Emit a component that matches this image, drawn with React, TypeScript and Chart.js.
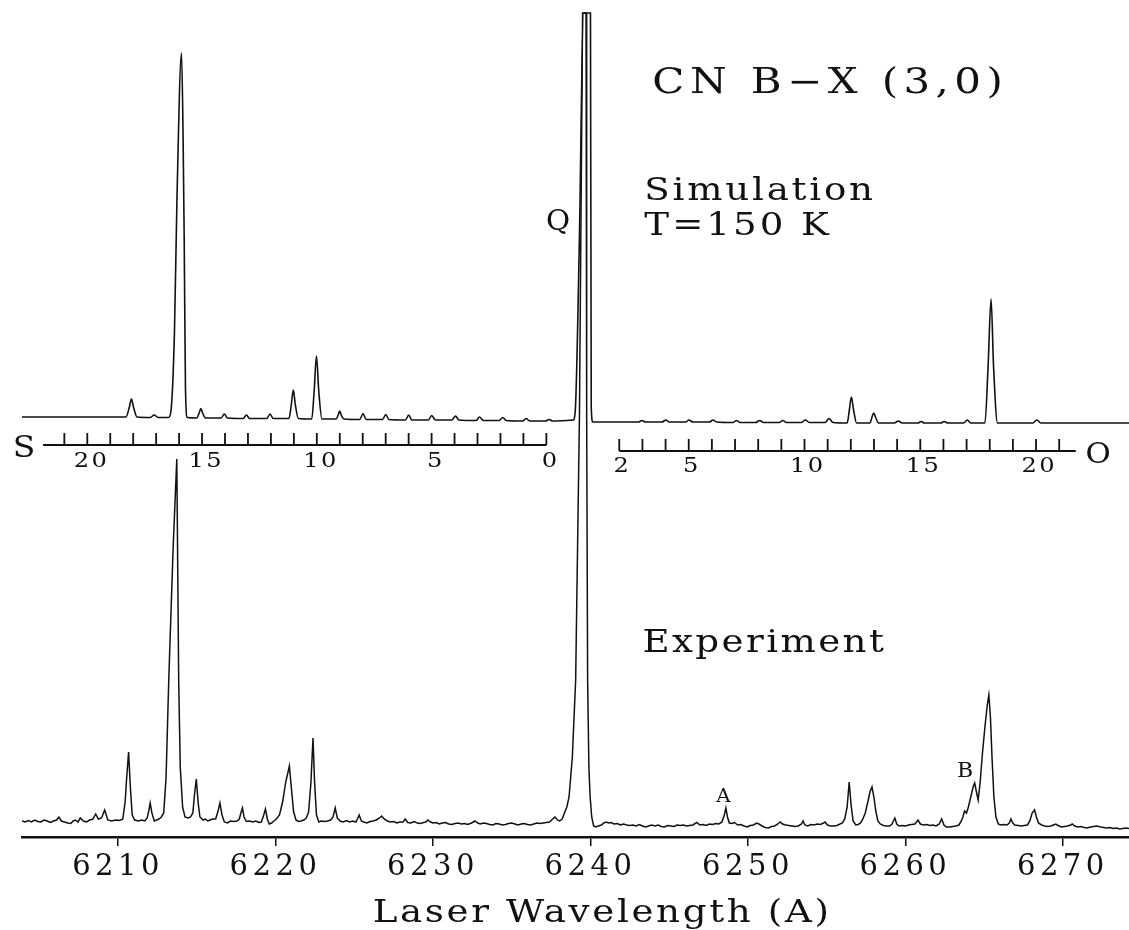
import React, { useEffect, useRef } from 'react';
import { Chart, registerables } from 'chart.js';

Chart.register(...registerables);

// ---------- axis ----------
const X_MIN = 6203.9;
const X_MAX = 6274.2;
const X_TICKS = [6210, 6220, 6230, 6240, 6250, 6260, 6270];
const X_TITLE = 'Laser Wavelength (A)';
const Y_MAX = 825;

// ---------- simulation trace (T = 150 K): [wavelength, intensity] ----------
const SIM_S_BRANCH = [
  [6203.9, 420], [6209.9, 420], [6210.5, 420], [6210.72, 430], [6210.85, 438], [6210.98, 430], [6211.2, 420],
  [6212.05, 419.5], [6212.29, 422], [6212.55, 419.5],
  [6213.2, 419.5], [6213.35, 425], [6213.58, 504], [6213.74, 637], [6214.03, 784], [6214.13, 700], [6214.2, 600], [6214.28, 450], [6214.4, 419.5],
  [6215.0, 419], [6215.15, 424], [6215.26, 428.5], [6215.37, 424], [6215.55, 419],
  [6216.55, 419], [6216.75, 423], [6216.95, 419], [6217.95, 418.5], [6218.15, 422], [6218.35, 418.5],
  [6219.45, 418.5], [6219.65, 423], [6219.85, 418.5], [6220.85, 418.5], [6221.0, 432], [6221.13, 447], [6221.26, 432], [6221.45, 418.5],
  [6222.3, 418], [6222.45, 445], [6222.6, 481], [6222.75, 445], [6222.95, 418],
  [6223.85, 418], [6224.0, 423], [6224.07, 426], [6224.2, 421], [6224.35, 418],
  [6225.35, 417.5], [6225.56, 423.5], [6225.75, 417.5], [6226.8, 417.5], [6227.0, 422.5], [6227.2, 417.5],
  [6228.25, 417], [6228.46, 422], [6228.65, 417], [6229.7, 417], [6229.92, 421.5], [6230.15, 417],
  [6231.2, 417], [6231.43, 421], [6231.65, 417], [6232.75, 416.5], [6232.95, 420], [6233.2, 416.5],
  [6234.2, 416.5], [6234.43, 419.5], [6234.65, 416.5], [6235.7, 416], [6235.91, 418.5], [6236.15, 416],
  [6237.15, 416], [6237.37, 417.5], [6237.6, 416], [6238.9, 417],
];
const SIM_Q_BRANCH = [
  [6239.03, 425], [6239.3, 600], [6239.55, 824], [6240.0, 824], [6240.05, 430], [6240.15, 415],
];
const SIM_O_BRANCH = [
  [6243.05, 415], [6243.27, 416.5], [6243.5, 415], [6244.55, 415], [6244.79, 417], [6245.0, 415],
  [6246.05, 415], [6246.26, 417], [6246.5, 415], [6247.55, 415], [6247.79, 417], [6248.0, 415],
  [6249.05, 414.5], [6249.27, 416.5], [6249.5, 414.5], [6250.5, 414.5], [6250.74, 416.5], [6251.0, 414.5],
  [6252.0, 414.5], [6252.22, 416.5], [6252.45, 414.5], [6253.4, 414.5], [6253.65, 417], [6253.9, 414.5],
  [6254.9, 414.5], [6255.15, 418.5], [6255.4, 414.5],
  [6256.3, 414], [6256.45, 428], [6256.57, 440], [6256.7, 428], [6256.9, 414],
  [6257.75, 414], [6257.88, 420], [6257.99, 424], [6258.1, 420], [6258.3, 414],
  [6259.3, 414], [6259.55, 416], [6259.8, 414], [6260.8, 414], [6261.0, 415.5], [6261.2, 414],
  [6262.25, 414], [6262.46, 415.5], [6262.7, 414], [6263.7, 414], [6263.93, 417], [6264.15, 414],
  [6265.05, 414], [6265.25, 470], [6265.44, 538], [6265.6, 470], [6265.85, 414],
  [6268.1, 414], [6268.35, 417], [6268.6, 414], [6274.2, 414],
];

// ---------- experimental trace: [wavelength, intensity] ----------
const EXP_S_BRANCH = [
  [6203.9, 16], [6204.1, 15], [6204.3, 16.5], [6204.5, 15], [6204.7, 17], [6204.9, 15.5], [6205.1, 15], [6205.3, 17],
  [6205.5, 16], [6205.7, 14.5], [6205.9, 16], [6206.1, 17], [6206.24, 20], [6206.4, 16], [6206.6, 15], [6206.8, 14],
  [6207.0, 13.5], [6207.15, 16], [6207.3, 17], [6207.45, 15], [6207.6, 19], [6207.8, 16], [6208.0, 15], [6208.2, 17],
  [6208.4, 18], [6208.58, 23], [6208.75, 18], [6208.95, 19], [6209.15, 27], [6209.35, 17], [6209.6, 16], [6209.85, 17],
  [6210.1, 16.5], [6210.3, 18], [6210.45, 35], [6210.55, 60], [6210.67, 85], [6210.78, 50], [6210.9, 22], [6211.05, 17],
  [6211.3, 16], [6211.5, 17], [6211.7, 16], [6211.85, 19], [6211.95, 26], [6212.04, 34], [6212.15, 24], [6212.3, 16],
  [6212.45, 17], [6212.6, 18], [6212.75, 20], [6212.9, 24], [6213.05, 60], [6213.22, 157], [6213.5, 290], [6213.73, 378],
  [6213.85, 157], [6213.95, 70], [6214.1, 30], [6214.25, 20], [6214.45, 19], [6214.6, 20], [6214.75, 24], [6214.85, 42],
  [6214.97, 58], [6215.08, 35], [6215.2, 20], [6215.4, 17], [6215.55, 18], [6215.7, 16], [6215.85, 17], [6216.0, 18],
  [6216.2, 18], [6216.35, 26], [6216.47, 34], [6216.6, 22], [6216.75, 15], [6216.95, 14], [6217.15, 16], [6217.35, 15.5],
  [6217.55, 16], [6217.7, 18], [6217.8, 24], [6217.9, 29], [6218.0, 20], [6218.15, 15.5], [6218.35, 16], [6218.55, 15],
  [6218.75, 16], [6218.95, 14.5], [6219.1, 15], [6219.25, 22], [6219.36, 28], [6219.48, 18], [6219.6, 13], [6219.75, 14],
  [6219.9, 16], [6220.05, 18], [6220.25, 22], [6220.45, 35], [6220.65, 55], [6220.88, 71], [6221.0, 50], [6221.15, 25],
  [6221.3, 17], [6221.45, 15.5], [6221.6, 16], [6221.8, 17], [6221.95, 19], [6222.1, 25], [6222.25, 55], [6222.38, 99],
  [6222.48, 55], [6222.6, 22], [6222.75, 15], [6222.9, 16], [6223.1, 15.5], [6223.3, 16], [6223.5, 17], [6223.65, 20],
  [6223.79, 29], [6223.92, 19], [6224.1, 16], [6224.3, 15], [6224.5, 16.5], [6224.7, 15], [6224.9, 16], [6225.1, 15],
  [6225.2, 18], [6225.31, 22], [6225.45, 16], [6225.6, 15], [6225.8, 14], [6226.0, 15.5], [6226.2, 16], [6226.4, 17],
  [6226.6, 19], [6226.74, 21], [6226.9, 18], [6227.1, 16], [6227.3, 15], [6227.5, 15.5], [6227.7, 14], [6227.9, 15],
  [6228.1, 15], [6228.24, 18], [6228.4, 14.5], [6228.6, 14], [6228.8, 15.5], [6229.0, 14], [6229.2, 13.5], [6229.4, 14.5],
  [6229.55, 15], [6229.67, 17], [6229.85, 15], [6230.0, 14], [6230.2, 14.5], [6230.4, 13], [6230.6, 14], [6230.8, 14.5],
  [6231.0, 13], [6231.2, 12.5], [6231.4, 13.5], [6231.6, 14], [6231.8, 13], [6232.0, 13.5], [6232.2, 12.5], [6232.45, 14],
  [6232.66, 16], [6232.85, 14], [6233.0, 13], [6233.2, 14], [6233.4, 13.5], [6233.6, 12.5], [6233.8, 12], [6234.0, 13.5],
  [6234.2, 13], [6234.4, 12], [6234.6, 12.5], [6234.8, 13.5], [6235.0, 14], [6235.2, 13], [6235.4, 12], [6235.6, 13],
  [6235.8, 13.5], [6236.0, 12.5], [6236.2, 12], [6236.4, 13], [6236.6, 14], [6236.8, 13.5], [6237.0, 14], [6237.2, 14.5],
  [6237.4, 15], [6237.6, 18], [6237.75, 20], [6237.9, 17], [6238.05, 16],
];
const EXP_Q_BRANCH = [
  [6238.2, 18], [6238.35, 24], [6238.5, 30], [6238.64, 40], [6238.85, 80], [6239.06, 157], [6239.3, 420],
  [6239.5, 824], [6239.72, 824], [6239.76, 420], [6239.82, 157], [6239.9, 70], [6239.98, 40], [6240.08, 20], [6240.2, 11],
];
const EXP_O_BRANCH = [
  [6240.35, 10], [6240.5, 11], [6240.7, 12], [6240.85, 14], [6241.0, 15], [6241.15, 14], [6241.3, 14.5], [6241.5, 13],
  [6241.7, 13.5], [6241.9, 12], [6242.1, 13], [6242.3, 12], [6242.5, 11.5], [6242.7, 12], [6242.9, 11], [6243.1, 12.5],
  [6243.3, 11], [6243.5, 10], [6243.7, 11], [6243.9, 12], [6244.1, 11], [6244.3, 12], [6244.5, 10.5], [6244.7, 10],
  [6244.9, 11.5], [6245.1, 11], [6245.3, 10.5], [6245.5, 12], [6245.7, 11.5], [6245.9, 12], [6246.1, 11], [6246.3, 11.5],
  [6246.5, 12], [6246.75, 14.5], [6246.95, 12], [6247.15, 12.5], [6247.35, 11.5], [6247.55, 13], [6247.75, 12.5], [6247.95, 13.5],
  [6248.15, 13], [6248.35, 15], [6248.5, 22], [6248.6, 29], [6248.7, 20], [6248.82, 14], [6249.0, 13.5], [6249.15, 14.5],
  [6249.35, 12], [6249.55, 12.5], [6249.75, 11], [6249.95, 10], [6250.15, 11.5], [6250.35, 12], [6250.55, 14], [6250.7, 13],
  [6250.9, 11], [6251.1, 9.5], [6251.3, 9], [6251.5, 10.5], [6251.7, 11], [6251.9, 13], [6252.05, 15], [6252.2, 13],
  [6252.4, 12], [6252.6, 11.5], [6252.8, 11], [6253.0, 10.5], [6253.2, 11], [6253.4, 13], [6253.5, 16], [6253.62, 12],
  [6253.8, 11], [6254.0, 12.5], [6254.2, 12], [6254.4, 13], [6254.6, 12.5], [6254.8, 14], [6254.9, 15], [6255.05, 12],
  [6255.25, 11], [6255.45, 11], [6255.65, 11.5], [6255.85, 13], [6256.0, 14], [6256.15, 18], [6256.3, 30], [6256.43, 55],
  [6256.55, 32], [6256.68, 16], [6256.85, 12], [6257.0, 12.5], [6257.15, 14], [6257.3, 18], [6257.45, 24], [6257.6, 34],
  [6257.75, 45], [6257.88, 50], [6258.0, 40], [6258.12, 26], [6258.25, 16], [6258.4, 13], [6258.6, 11.5], [6258.8, 11],
  [6259.0, 11], [6259.15, 13], [6259.33, 19], [6259.45, 13], [6259.6, 11], [6259.8, 11.5], [6260.0, 11], [6260.2, 12],
  [6260.4, 12.5], [6260.6, 13], [6260.8, 17], [6260.95, 13], [6261.15, 12], [6261.35, 12.5], [6261.55, 11.5], [6261.75, 12],
  [6261.95, 11], [6262.15, 13], [6262.3, 18], [6262.45, 12], [6262.6, 10], [6262.8, 10], [6263.0, 10.5], [6263.2, 11],
  [6263.4, 12], [6263.55, 16], [6263.65, 20], [6263.76, 26], [6263.88, 24], [6264.0, 30], [6264.15, 40], [6264.3, 50],
  [6264.4, 54], [6264.5, 46], [6264.62, 37], [6264.75, 55], [6264.9, 85], [6265.05, 110], [6265.2, 132], [6265.3, 142],
  [6265.4, 120], [6265.5, 80], [6265.62, 40], [6265.75, 20], [6265.9, 13], [6266.05, 12], [6266.25, 12.5], [6266.45, 12],
  [6266.6, 14], [6266.7, 18], [6266.82, 14], [6266.95, 12], [6267.15, 11.5], [6267.35, 11], [6267.55, 11.5], [6267.75, 12],
  [6267.9, 16], [6268.05, 24], [6268.2, 27], [6268.32, 20], [6268.45, 14], [6268.65, 12], [6268.85, 11], [6269.05, 10.5],
  [6269.25, 11], [6269.4, 12], [6269.55, 13], [6269.7, 11.5], [6269.9, 10], [6270.1, 10.5], [6270.3, 11], [6270.5, 12],
  [6270.6, 13], [6270.75, 11], [6270.95, 10], [6271.15, 10.5], [6271.35, 9.5], [6271.55, 9], [6271.75, 10], [6271.95, 10.5],
  [6272.15, 11], [6272.4, 10], [6272.6, 9.5], [6272.8, 9], [6273.0, 9.5], [6273.2, 8.5], [6273.4, 9], [6273.6, 8],
  [6273.8, 8.5], [6274.0, 9], [6274.2, 8.5],
];

// ---------- rotational-line rulers (S and O branch J numbers) ----------
const S_TICKS_J = [21, 20, 19, 18, 17, 16, 15, 14, 13, 12, 11, 10, 9, 8, 7, 6, 5, 4, 3, 2, 1, 0];
const S_LABELS_J = [20, 15, 10, 5, 0];
const S_J0_WAVELENGTH = 6237.2;
const S_STEP = 1.4577;
const S_LINE_START = 6205.24;
const O_TICKS_J = [2, 3, 4, 5, 6, 7, 8, 9, 10, 11, 12, 13, 14, 15, 16, 17, 18, 19, 20, 21];
const O_LABELS_J = [2, 5, 10, 15, 20];
const O_J2_WAVELENGTH = 6241.83;
const O_STEP = 1.4704;
const O_LINE_END = 6270.82;

const sWave = (j: number) => S_J0_WAVELENGTH - j * S_STEP;
const oWave = (j: number) => O_J2_WAVELENGTH + (j - 2) * O_STEP;

// ---------- text annotations (data coordinates) ----------
type Note = { text: string; x: number; y: number; size: number; sx: number; spacing: number; align: 'left' | 'center' };
const NOTES: Note[] = [
  { text: 'CN B\u2212X (3,0)', x: 6243.93, y: 744, size: 35, sx: 1.2, spacing: 4.5, align: 'left' },
  { text: 'Simulation', x: 6243.42, y: 637, size: 31, sx: 1.2, spacing: 2.3, align: 'left' },
  { text: 'T=150 K', x: 6243.42, y: 602, size: 31, sx: 1.2, spacing: 2.5, align: 'left' },
  { text: 'Q', x: 6237.18, y: 607, size: 28, sx: 1.05, spacing: 0, align: 'left' },
  { text: 'Experiment', x: 6243.3, y: 185, size: 31, sx: 1.2, spacing: 2, align: 'left' },
  { text: 'A', x: 6248.45, y: 35, size: 18, sx: 1.1, spacing: 0, align: 'center' },
  { text: 'B', x: 6263.79, y: 60, size: 20, sx: 1.1, spacing: 0, align: 'center' },
  { text: 'S', x: 6203.32, y: 380, size: 30, sx: 1.1, spacing: 0, align: 'left' },
  { text: 'O', x: 6271.43, y: 374, size: 28, sx: 1.1, spacing: 0, align: 'left' },
];
const TITLE_LEFT = 6226.17;
const TITLE_BASE_Y = 922;
const S_RULER_Y = 392;
const O_RULER_Y = 386;
const RULER_TICK = 12;
const S_LABEL_Y = 370;
const O_LABEL_Y = 365;

const SERIF = '"DejaVu Serif", serif';

function drawText(
  ctx: CanvasRenderingContext2D, text: string, x: number, y: number,
  size: number, sx: number, spacing: number, align: 'left' | 'center',
) {
  ctx.save();
  ctx.font = `${size}px ${SERIF}`;
  (ctx as any).letterSpacing = `${spacing}px`;
  ctx.textAlign = 'left';
  ctx.textBaseline = 'alphabetic';
  const w = (ctx.measureText(text).width - spacing) * sx;
  const left = align === 'center' ? x - w / 2 : x;
  ctx.translate(left, y);
  ctx.scale(sx, 1);
  ctx.fillText(text, 0, 0);
  ctx.restore();
}

const overlayPlugin = {
  id: 'overlay',
  beforeDraw(chart: any) {
    chart.ctx.letterSpacing = '4.5px';
  },
  afterDraw(chart: any) {
    const ctx: CanvasRenderingContext2D = chart.ctx;
    (ctx as any).letterSpacing = '0px';
    const xs = chart.scales.x;
    const ys = chart.scales.y;
    const px = (v: number) => xs.getPixelForValue(v);
    const py = (v: number) => ys.getPixelForValue(v);
    ctx.save();
    ctx.strokeStyle = '#111';
    ctx.fillStyle = '#111';
    ctx.lineWidth = 1.8;
    ctx.beginPath();
    const y0 = py(S_RULER_Y);
    ctx.moveTo(px(S_LINE_START), y0);
    ctx.lineTo(px(sWave(0)), y0);
    S_TICKS_J.forEach((j) => {
      ctx.moveTo(px(sWave(j)), y0);
      ctx.lineTo(px(sWave(j)), y0 - RULER_TICK);
    });
    const y1 = py(O_RULER_Y);
    ctx.moveTo(px(oWave(2)), y1);
    ctx.lineTo(px(O_LINE_END), y1);
    O_TICKS_J.forEach((j) => {
      ctx.moveTo(px(oWave(j)), y1);
      ctx.lineTo(px(oWave(j)), y1 - RULER_TICK);
    });
    ctx.stroke();
    S_LABELS_J.forEach((j) => drawText(ctx, String(j), px(sWave(j)) + 3, py(S_LABEL_Y), 21, 1.15, 2, 'center'));
    O_LABELS_J.forEach((j) => drawText(ctx, String(j), px(oWave(j)) + 2, py(O_LABEL_Y), 21, 1.15, 2, 'center'));
    NOTES.forEach((n) => drawText(ctx, n.text, px(n.x), py(n.y), n.size, n.sx, n.spacing, n.align));
    drawText(ctx, X_TITLE, px(TITLE_LEFT), TITLE_BASE_Y, 31, 1.2, 2.2, 'left');
    ctx.restore();
  },
};

const toPoints = (arr: number[][]) => arr.map(([x, y]) => ({ x, y }));

export default function App() {
  const ref = useRef<HTMLCanvasElement | null>(null);
  useEffect(() => {
    document.body.style.margin = '0';
    const canvas = ref.current!;
    const chart = new Chart(canvas, {
      type: 'line',
      data: {
        datasets: [
          {
            label: 'Simulation',
            data: toPoints([...SIM_S_BRANCH, ...SIM_Q_BRANCH, ...SIM_O_BRANCH]),
            borderColor: '#111',
            borderWidth: 1.6,
            pointRadius: 0,
            cubicInterpolationMode: 'monotone',
          },
          {
            label: 'Experiment',
            data: toPoints([...EXP_S_BRANCH, ...EXP_Q_BRANCH, ...EXP_O_BRANCH]),
            borderColor: '#111',
            borderWidth: 1.5,
            pointRadius: 0,
            tension: 0,
          },
        ],
      },
      options: {
        animation: false,
        responsive: false,
        layout: { padding: { left: 22, right: 0, top: 12, bottom: 0 } },
        plugins: { legend: { display: false }, tooltip: { enabled: false }, title: { display: false } },
        scales: {
          x: {
            type: 'linear',
            min: X_MIN,
            max: X_MAX,
            afterBuildTicks: (scale: any) => {
              scale.ticks = X_TICKS.map((v) => ({ value: v }));
            },
            afterFit: (scale: any) => {
              scale.height = 93;
            },
            ticks: {
              color: '#111',
              font: { family: 'DejaVu Serif', size: 29 },
              padding: 4,
              maxRotation: 0,
              callback: (v: any) => String(v),
            },
            grid: { drawOnChartArea: false, drawTicks: true, tickLength: 9, color: '#111', lineWidth: 1.5 },
            border: { display: true, color: '#111', width: 2.5 },
          },
          y: { display: false, min: 0, max: Y_MAX },
        },
      },
      plugins: [overlayPlugin],
    });
    return () => chart.destroy();
  }, []);
  return <canvas ref={ref} width={1129} height={930} style={{ display: 'block' }} />;
}
